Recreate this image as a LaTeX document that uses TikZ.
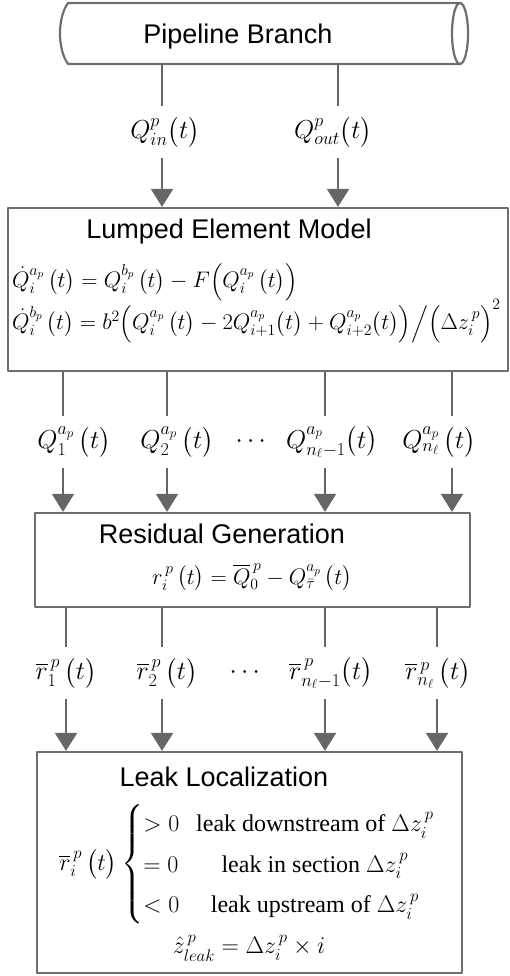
\RequirePackage{fix-cm}
\documentclass[tikz,border=0pt]{standalone}
\usepackage{amsmath}
\usepackage{fontspec}
\setmainfont{Liberation Serif}
\newfontfamily\headfont{Liberation Sans}
\usepackage{tikz}
\usetikzlibrary{arrows.meta,positioning,calc}

\definecolor{boxgray}{HTML}{6E6E6E}
\definecolor{arrowgray}{HTML}{666666}

\begin{document}
\begin{tikzpicture}[
    x=1pt, y=-1pt,
    line join=round,
    box/.style={draw=boxgray, line width=2.2pt},
    link/.style={draw=arrowgray, line width=2pt},
    flow/.style={draw=arrowgray, line width=2pt, -{Triangle[length=18pt,width=22pt]}},
    head/.style={font=\headfont\fontsize{27}{30}\selectfont, inner sep=0pt},
    eqn/.style={font=\fontsize{22.5}{26}\selectfont, inner sep=0pt},
    lbl/.style={font=\fontsize{26}{30}\selectfont, inner sep=0pt, minimum height=52pt},
  ]
  \useasboundingbox (0,0) rectangle (510,976);

  % ---------- PIPELINE BRANCH (cylinder) ----------
  \node[minimum width=400pt, minimum height=61pt, inner sep=0pt] (pipe) at (264,33.5) {};
  \draw[box] (460,3) -- (68,3) .. controls (57.3,18) and (57.3,49) .. (68,64) -- (460,64);
  \draw[box] (460,33.5) ellipse [x radius=8, y radius=30.5];
  \node[head] (pipeT) at (238,37) {Pipeline Branch};

  % ---------- inlet / outlet flows ----------
  \node[lbl] (qin)  at (165,132) {$Q_{in}^{p}\bigl(t\bigr)$};
  \node[lbl] (qout) at (333,132) {$Q_{out}^{p}\bigl(t\bigr)$};

  % ---------- LUMPED ELEMENT MODEL ----------
  \node[box, minimum width=500pt, minimum height=163pt, inner sep=0pt] (lem) at (258,289.5) {};
  \node[head] (lemT) at (229,232) {Lumped Element Model};
  \node[eqn, anchor=west] (lemA) at (12,282)
    {$\dot{Q}_i^{a_p}\,\bigl(t\bigr)=Q_i^{b_p}\,\bigl(t\bigr)-F\Bigl(Q_i^{a_p}\,\bigl(t\bigr)\Bigr)$};
  \node[eqn, anchor=west] (lemB) at (12,322)
    {$\dot{Q}_i^{b_p}\,\bigl(t\bigr)=b^2\Bigl(Q_i^{a_p}\,\bigl(t\bigr)-2Q_{i+1}^{a_p}\bigl(t\bigr)+Q_{i+2}^{a_p}\bigl(t\bigr)\Bigr)\Big/\Bigl(\Delta z_i^{\,p}\Bigr)^2$};

  % ---------- element flows ----------
  \node[lbl] (qa1) at (74,442)  {$Q_1^{a_p}\,\bigl(t\bigr)$};
  \node[lbl] (qa2) at (177,442) {$Q_2^{a_p}\,\bigl(t\bigr)$};
  \node[lbl] (qad) at (253,442) {$\cdots$};
  \node[lbl] (qa3) at (332,442) {$Q_{n_\ell-1}^{a_p}\bigl(t\bigr)$};
  \node[lbl] (qa4) at (439,442) {$Q_{n_\ell}^{a_p}\,\bigl(t\bigr)$};

  % ---------- RESIDUAL GENERATION ----------
  \node[box, minimum width=435pt, minimum height=94pt, inner sep=0pt] (rg) at (252.5,560) {};
  \node[head] (rgT) at (222,534) {Residual Generation};
  \node[eqn] (rgA) at (252,578)
    {$r_i^{\,p}\,\bigl(t\bigr)=\overline{Q}_0^{\,p}-Q_{\bar\tau}^{a_p}\,\bigl(t\bigr)$};

  % ---------- filtered residuals ----------
  \node[lbl] (rr1) at (66,673)  {$\overline{r}_1^{\,p}\,\bigl(t\bigr)$};
  \node[lbl] (rr2) at (167,673) {$\overline{r}_2^{\,p}\,\bigl(t\bigr)$};
  \node[lbl] (rrd) at (247,673) {$\cdots$};
  \node[lbl] (rr3) at (331,673) {$\overline{r}_{n_\ell-1}^{\,p}\bigl(t\bigr)$};
  \node[lbl] (rr4) at (438,673) {$\overline{r}_{n_\ell}^{\,p}\,\bigl(t\bigr)$};

  % ---------- LEAK LOCALIZATION ----------
  \node[box, minimum width=425pt, minimum height=221pt, inner sep=0pt] (ll) at (249.5,862.5) {};
  \node[head] (llT) at (224,777) {Leak Localization};
  \node[eqn, font=\fontsize{24}{28}\selectfont] (llA) at (247,864)
    {\renewcommand{\arraystretch}{1.45}%
     $\overline{r}_i^{\,p}\,\bigl(t\bigr)\left\{\begin{array}{@{}l@{\hspace{0.7em}}c@{}}
        >0 & \text{leak downstream of }\Delta z_i^{\,p}\\
        =0 & \text{leak in section }\Delta z_i^{\,p}\\
        <0 & \text{leak upstream of }\Delta z_i^{\,p}
      \end{array}\right.$};
  \node[eqn, font=\fontsize{24}{28}\selectfont] (llB) at (249,948)
    {$\hat{z}_{leak}^{\,p}=\Delta z_i^{\,p}\times i$};

  % ---------- CONNECTORS ----------
  \foreach \c/\l in {162/qin, 338/qout}{
    \coordinate (k) at (\c,0);
    \draw[link] (k |- pipe.south) -- (k |- \l.north);
    \draw[flow] (k |- \l.south) -- (k |- lem.north);
  }
  \foreach \c/\l in {63/qa1, 167/qa2, 325/qa3, 452/qa4}{
    \coordinate (k) at (\c,0);
    \draw[link] (k |- lem.south) -- (k |- \l.north);
    \draw[flow] (k |- \l.south) -- (k |- rg.north);
  }
  \foreach \c/\l in {66/rr1, 162/rr2, 325/rr3, 437/rr4}{
    \coordinate (k) at (\c,0);
    \draw[link] (k |- rg.south) -- (k |- \l.north);
    \draw[flow] (k |- \l.south) -- (k |- ll.north);
  }

\end{tikzpicture}
\end{document}
